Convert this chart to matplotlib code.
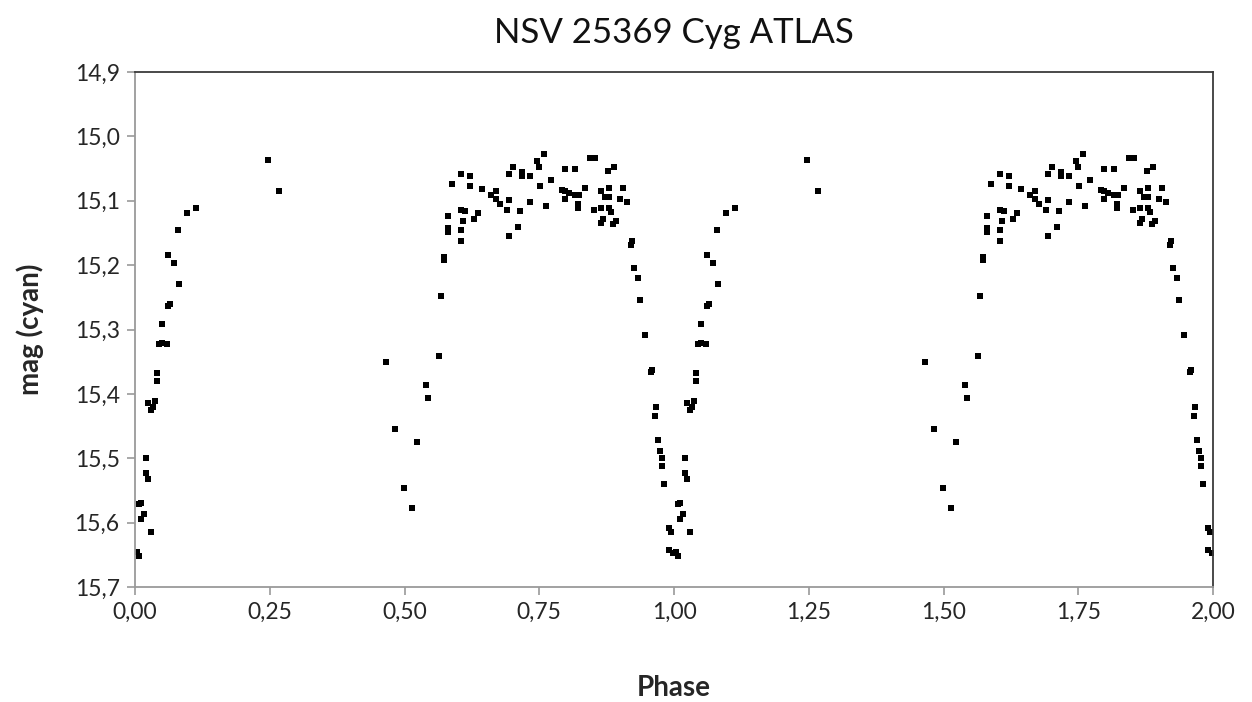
import numpy as np
import matplotlib
matplotlib.use("Agg")
import matplotlib.pyplot as plt
from matplotlib.ticker import FuncFormatter, MultipleLocator

plt.rcParams['font.family'] = ['Lato', 'DejaVu Sans']

# phase / magnitude for one cycle; plotted twice (0-1 and 1-2)
phase = [0.003, 0.007, 0.007, 0.011, 0.011, 0.017, 0.020, 0.020, 0.024, 0.024,
         0.030, 0.030, 0.034, 0.038, 0.041, 0.041, 0.044, 0.051, 0.051, 0.059,
         0.062, 0.065, 0.062, 0.072, 0.079, 0.082, 0.096, 0.113, 0.246, 0.267,
         0.465, 0.482, 0.499, 0.513, 0.523, 0.540, 0.544, 0.564, 0.568, 0.574,
         0.574, 0.581, 0.581, 0.581, 0.588, 0.605, 0.605, 0.612, 0.609, 0.605,
         0.605, 0.622, 0.622, 0.629, 0.636, 0.643, 0.660, 0.670, 0.670, 0.677,
         0.690, 0.694, 0.694, 0.701, 0.694, 0.711, 0.714, 0.718, 0.718, 0.732,
         0.732, 0.745, 0.749, 0.752, 0.759, 0.763, 0.772, 0.793, 0.797, 0.797,
         0.797, 0.806, 0.817, 0.817, 0.824, 0.821, 0.821, 0.834, 0.844, 0.854,
         0.851, 0.865, 0.865, 0.865, 0.868, 0.872, 0.879, 0.879, 0.878, 0.889,
         0.879, 0.883, 0.886, 0.892, 0.899, 0.906, 0.913, 0.920, 0.923, 0.926,
         0.933, 0.936, 0.947, 0.957, 0.960, 0.964, 0.967, 0.971, 0.974, 0.978,
         0.978, 0.981, 0.991, 0.994, 0.991, 0.998]
mag = [15.646, 15.652, 15.571, 15.569, 15.594, 15.586, 15.500, 15.523, 15.532, 15.414,
       15.614, 15.425, 15.420, 15.411, 15.368, 15.380, 15.323, 15.321, 15.291, 15.323,
       15.263, 15.260, 15.185, 15.197, 15.145, 15.229, 15.119, 15.111, 15.037, 15.085,
       15.351, 15.454, 15.546, 15.578, 15.475, 15.386, 15.406, 15.341, 15.248, 15.188,
       15.192, 15.123, 15.143, 15.148, 15.074, 15.059, 15.114, 15.116, 15.131, 15.145,
       15.162, 15.062, 15.077, 15.128, 15.119, 15.082, 15.091, 15.085, 15.097, 15.105,
       15.114, 15.099, 15.059, 15.048, 15.154, 15.140, 15.116, 15.056, 15.062, 15.062,
       15.102, 15.039, 15.048, 15.077, 15.028, 15.108, 15.068, 15.083, 15.085, 15.051,
       15.097, 15.088, 15.051, 15.091, 15.091, 15.105, 15.111, 15.080, 15.034, 15.034,
       15.114, 15.085, 15.111, 15.134, 15.128, 15.094, 15.094, 15.080, 15.054, 15.048,
       15.111, 15.117, 15.136, 15.131, 15.097, 15.080, 15.102, 15.168, 15.162, 15.205,
       15.220, 15.254, 15.308, 15.366, 15.363, 15.434, 15.420, 15.471, 15.489, 15.500,
       15.512, 15.540, 15.609, 15.615, 15.643, 15.647]

phase = np.array(phase)
mag = np.array(mag)
ph2 = np.concatenate([phase, phase + 1])
mag2 = np.concatenate([mag, mag])

fig = plt.figure(figsize=(12.52, 7.02), dpi=100)
ax = fig.add_axes([135/1252, 1-587/702, (1213-135)/1252, (587-72)/702])

ax.plot(ph2, mag2, 's', color='black', ms=3.8, mew=0)

ax.set_xlim(0, 2)
ax.set_ylim(15.7, 14.9)
ax.xaxis.set_major_locator(MultipleLocator(0.25))
ax.yaxis.set_major_locator(MultipleLocator(0.1))
ax.xaxis.set_major_formatter(FuncFormatter(lambda v, p: f"{v:.2f}".replace('.', ',')))
ax.yaxis.set_major_formatter(FuncFormatter(lambda v, p: f"{v:.1f}".replace('.', ',')))

for s in ['left', 'bottom']:
    ax.spines[s].set_color('#9a9a9a')
    ax.spines[s].set_linewidth(1.3)
for s in ['top', 'right']:
    ax.spines[s].set_color('#3a3a3a')
    ax.spines[s].set_linewidth(1.3)

ax.tick_params(axis='both', direction='out', length=6, width=1.2, color='#9a9a9a',
               labelsize=16.5, labelcolor='#262626', pad=5)

ax.set_title('NSV 25369 Cyg ATLAS', fontsize=25, color='#111111', pad=21)
ax.set_xlabel('Phase', fontsize=20, fontweight='bold', color='#262626', labelpad=37)
ax.set_ylabel('mag (cyan)', fontsize=20, fontweight='bold', color='#262626', labelpad=22)

fig.savefig('out.png', dpi=100)
